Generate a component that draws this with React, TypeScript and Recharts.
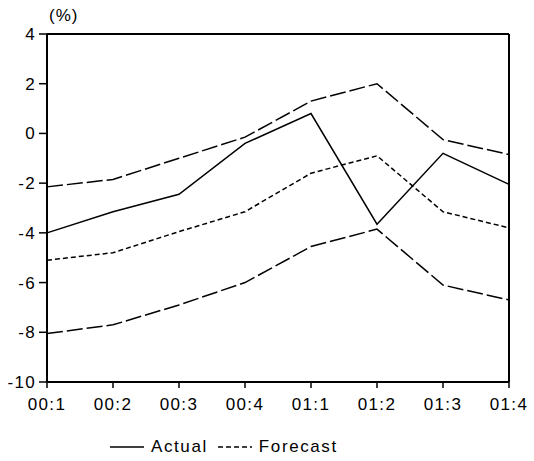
import { LineChart, Line, XAxis, YAxis, Legend, ReferenceLine } from "recharts";

const QUARTERS = ["00:1", "00:2", "00:3", "00:4", "01:1", "01:2", "01:3", "01:4"];
const ACTUAL = [-4.0, -3.15, -2.45, -0.4, 0.8, -3.65, -0.8, -2.05];
const FORECAST = [-5.1, -4.8, -3.95, -3.15, -1.6, -0.9, -3.15, -3.8];
const UPPER = [-2.15, -1.85, -1.0, -0.15, 1.3, 2.0, -0.25, -0.85];
const LOWER = [-8.05, -7.7, -6.9, -6.0, -4.55, -3.85, -6.1, -6.7];
const Y_TICKS = [-10, -8, -6, -4, -2, 0, 2, 4];

const data = QUARTERS.map((q, i) => ({
  q,
  actual: ACTUAL[i],
  forecast: FORECAST[i],
  upper: UPPER[i],
  lower: LOWER[i],
}));

const FONT = "'Liberation Sans', Arial, sans-serif";
const tickStyle = { fontSize: 17, fill: "#000", fontFamily: FONT, letterSpacing: 1.3 };

function LegendContent() {
  const items = [
    { name: "Actual", dash: undefined },
    { name: "Forecast", dash: "5 3" },
  ];
  return (
    <div
      style={{
        display: "flex",
        alignItems: "center",
        paddingLeft: 110,
        paddingTop: 6,
        fontFamily: FONT,
        fontSize: 17,
        letterSpacing: 1.6,
        color: "#000",
      }}
    >
      {items.map((it) => (
        <span key={it.name} style={{ display: "flex", alignItems: "center", marginRight: 10 }}>
          <svg width={34} height={10} style={{ marginRight: 7 }}>
            <line x1={0} y1={5} x2={34} y2={5} stroke="#000" strokeWidth={1.5} strokeDasharray={it.dash} />
          </svg>
          {it.name}
        </span>
      ))}
    </div>
  );
}

export default function App() {
  return (
    <div style={{ position: "absolute", left: 0, top: 0, width: 534, height: 461, background: "#fff" }}>
      <div
        style={{
          position: "absolute",
          left: 49,
          top: 6,
          fontFamily: FONT,
          fontSize: 17,
          letterSpacing: 1,
          color: "#000",
        }}
      >
        (%)
      </div>
      <LineChart width={534} height={461} data={data} margin={{ top: 34, right: 25, left: 0, bottom: 0 }}>
        <XAxis
          dataKey="q"
          height={49}
          tick={tickStyle}
          tickSize={6}
          tickMargin={10}
          stroke="#000"
          strokeWidth={2}
          tickLine={{ stroke: "#000", strokeWidth: 1.5 }}
        />
        <YAxis
          domain={[-10, 4]}
          ticks={Y_TICKS}
          width={47}
          tick={tickStyle}
          tickSize={8}
          tickMargin={3}
          stroke="#000"
          strokeWidth={2}
          tickLine={{ stroke: "#000", strokeWidth: 1.5 }}
          interval={0}
        />
        <ReferenceLine y={4} stroke="#000" strokeWidth={2} />
        <ReferenceLine x={QUARTERS[QUARTERS.length - 1]} stroke="#000" strokeWidth={2} />
        <Legend verticalAlign="bottom" height={30} content={<LegendContent />} />
        <Line dataKey="upper" stroke="#000" strokeWidth={1.5} strokeDasharray="16 4" dot={false} legendType="none" isAnimationActive={false} />
        <Line dataKey="lower" stroke="#000" strokeWidth={1.5} strokeDasharray="16 4" dot={false} legendType="none" isAnimationActive={false} />
        <Line dataKey="forecast" name="Forecast" stroke="#000" strokeWidth={1.5} strokeDasharray="5 3" dot={false} isAnimationActive={false} />
        <Line dataKey="actual" name="Actual" stroke="#000" strokeWidth={1.5} dot={false} isAnimationActive={false} />
      </LineChart>
    </div>
  );
}
